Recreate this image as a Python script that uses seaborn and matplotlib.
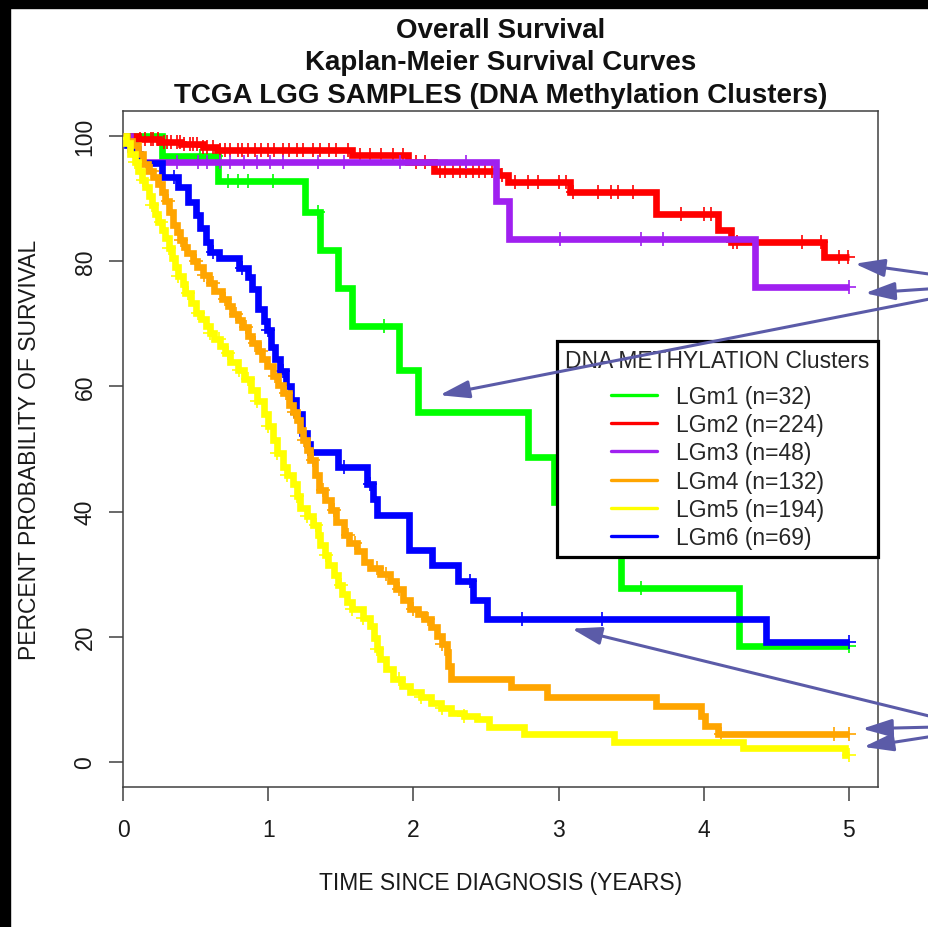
import numpy as np
import pandas as pd
import matplotlib
matplotlib.use("Agg")
import matplotlib.pyplot as plt
from matplotlib.lines import Line2D
from matplotlib.patches import Rectangle
import seaborn as sns

sns.set_style("ticks")
plt.rcParams["font.family"] = ["Liberation Sans", "DejaVu Sans"]

# ---------------------------------------------------------------- data
GROUPS = ["LGm1", "LGm2", "LGm3", "LGm4", "LGm5", "LGm6"]
COUNTS = [32, 224, 48, 132, 194, 69]
COLORS = ["#00ff00", "#ff0000", "#a020f0", "#ffa500", "#ffff00", "#0000ff"]

# Kaplan-Meier steps: time (years) of each drop and survival (%) after it
lgm1_t = [0, 0.27, 0.655, 1.255, 1.36, 1.48, 1.58, 1.90, 2.03, 2.79, 2.97, 3.20, 3.43, 4.24, 5.0]
lgm1_s = [100, 96.8, 92.8, 87.8, 81.8, 75.8, 69.7, 62.7, 55.9, 48.7, 41.6, 34.8, 27.8, 18.5, 18.5]

lgm2_t = [0, 0.10, 0.25, 0.40, 0.55, 0.65, 1.58, 1.96, 2.14, 2.58, 2.65, 3.08, 3.67, 4.10, 4.19, 4.83, 5.0]
lgm2_s = [100, 99.6, 99.1, 98.7, 98.2, 97.8, 96.9, 95.9, 94.4, 93.7, 92.7, 91.1, 87.5, 85.0, 83.0, 80.7, 80.7]

lgm3_t = [0, 0.05, 0.10, 2.57, 2.66, 4.35, 5.0]
lgm3_s = [100, 97.9, 95.8, 89.6, 83.6, 75.9, 75.9]

lgm4_t = [0, 0.03, 0.06, 0.10, 0.14, 0.17, 0.21, 0.24, 0.27, 0.29, 0.32, 0.345, 0.37, 0.39,
          0.42, 0.44, 0.48, 0.51, 0.55, 0.59, 0.63, 0.68, 0.72, 0.75, 0.79, 0.82, 0.86, 0.89,
          0.93, 0.96, 0.99, 1.03, 1.07, 1.10, 1.14, 1.17, 1.20, 1.22, 1.24, 1.27, 1.29, 1.32,
          1.35, 1.39, 1.43, 1.47, 1.52, 1.56, 1.61, 1.66, 1.70, 1.77, 1.84, 1.88, 1.93, 1.98,
          2.03, 2.07, 2.12, 2.16, 2.20, 2.23, 2.24, 2.26, 2.67, 2.92, 3.67, 3.98, 4.01, 4.10, 5.0]
lgm4_s = [100, 99.2, 98.5, 97.1, 95.5, 94.4, 93.4, 92.4, 91.0, 89.6, 87.8, 85.8, 84.6, 83.4,
          82.3, 81.3, 80.1, 79.0, 77.8, 76.6, 75.3, 74.0, 72.8, 71.6, 70.6, 69.5, 68.1, 66.9,
          65.6, 64.4, 63.2, 61.6, 60.2, 58.9, 57.1, 55.9, 54.7, 53.0, 51.5, 49.8, 48.2, 45.9,
          43.4, 41.8, 40.2, 38.4, 36.3, 35.0, 33.7, 32.0, 31.0, 30.0, 28.9, 27.6, 25.8, 24.4,
          23.6, 22.9, 21.5, 20.2, 18.8, 17.6, 15.4, 13.2, 11.9, 10.3, 8.9, 7.3, 5.8, 4.4, 4.4]

lgm5_t = [0, 0.02, 0.05, 0.08, 0.10, 0.13, 0.15, 0.18, 0.20, 0.22, 0.24, 0.27, 0.29, 0.32,
          0.34, 0.36, 0.38, 0.41, 0.43, 0.47, 0.50, 0.54, 0.57, 0.60, 0.63, 0.67, 0.70, 0.74,
          0.79, 0.83, 0.88, 0.92, 0.97, 1.00, 1.03, 1.06, 1.10, 1.13, 1.17, 1.20, 1.22, 1.27,
          1.31, 1.34, 1.36, 1.39, 1.41, 1.45, 1.48, 1.51, 1.54, 1.58, 1.65, 1.70, 1.73, 1.75,
          1.77, 1.81, 1.86, 1.92, 1.98, 2.05, 2.12, 2.19, 2.26, 2.35, 2.44, 2.52, 2.76, 3.38,
          4.27, 4.97, 5.0]
lgm5_s = [100, 98.9, 97.1, 95.8, 94.4, 93.0, 91.8, 90.4, 89.0, 87.6, 86.3, 85.0, 83.7, 82.1,
          80.5, 79.1, 77.7, 76.3, 75.0, 73.4, 71.8, 70.7, 69.7, 68.6, 67.6, 66.4, 65.3, 63.9,
          62.6, 61.2, 59.5, 57.6, 55.6, 53.6, 51.5, 49.3, 47.1, 45.8, 44.4, 42.5, 40.6, 39.3,
          37.9, 36.3, 34.7, 33.1, 31.5, 29.8, 28.2, 26.9, 25.6, 24.5, 23.0, 21.8, 19.8, 18.0,
          16.5, 14.8, 13.2, 12.1, 11.1, 10.3, 9.5, 8.7, 7.9, 7.3, 6.8, 5.6, 4.4, 3.2,
          2.2, 1.1, 1.1]

lgm6_t = [0, 0.03, 0.08, 0.12, 0.27, 0.38, 0.45, 0.50, 0.53, 0.57, 0.60, 0.66, 0.80, 0.86,
          0.89, 0.93, 0.97, 0.99, 1.02, 1.05, 1.08, 1.12, 1.16, 1.19, 1.23, 1.27, 1.29, 1.48,
          1.68, 1.72, 1.75, 1.97, 2.13, 2.31, 2.41, 2.51, 4.43, 5.0]
lgm6_s = [100, 98.6, 97.1, 95.7, 93.4, 91.9, 89.5, 87.4, 85.3, 83.0, 81.5, 80.5, 78.9, 77.5,
          75.6, 72.4, 70.5, 69.0, 66.3, 64.4, 62.4, 60.0, 57.8, 55.6, 52.6, 50.8, 49.5, 47.1,
          44.4, 42.0, 39.4, 33.9, 31.5, 28.9, 25.8, 22.9, 19.2, 19.2]

# censoring times (years)
lgm1_cens = [0.53, 0.64, 0.72, 0.79, 0.86, 1.03, 1.34, 1.80, 3.57, 5.0]
lgm2_cens = [0.12, 0.15, 0.19, 0.21, 0.24, 0.28, 0.30, 0.33, 0.37, 0.39, 0.42, 0.46, 0.48,
             0.51, 0.55, 0.58, 0.62, 0.67, 0.70, 0.74, 0.79, 0.82, 0.86, 0.91, 0.95, 1.00,
             1.04, 1.10, 1.14, 1.20, 1.24, 1.31, 1.36, 1.42, 1.47, 1.55, 1.63, 1.70, 1.78,
             1.86, 1.93, 2.02, 2.08, 2.18, 2.22, 2.27, 2.32, 2.36, 2.41, 2.45, 2.49, 2.54,
             2.61, 2.70, 2.79, 2.86, 3.00, 3.05, 3.10, 3.27, 3.36, 3.41, 3.51, 3.84, 4.00,
             4.05, 4.20, 4.23, 4.68, 4.81, 4.93, 4.99]
lgm3_cens = [0.37, 0.52, 0.58, 0.67, 0.74, 0.83, 0.92, 1.01, 1.10, 1.34, 1.52, 1.91, 2.36,
             3.01, 3.57, 3.72, 5.0]
lgm4_cens = [0.20, 0.31, 0.40, 0.50, 0.56, 0.62, 0.70, 0.78, 0.85, 0.91, 0.95, 1.05, 1.12,
             1.18, 1.25, 1.31, 1.38, 1.45, 1.55, 1.60, 1.75, 1.81, 1.90, 2.00, 2.10, 2.20,
             4.12, 4.90, 5.0]
lgm5_cens = [0.08, 0.14, 0.20, 0.26, 0.32, 0.38, 0.45, 0.52, 0.60, 0.66, 0.72, 0.80, 0.86,
             0.92, 1.00, 1.06, 1.13, 1.20, 1.27, 1.33, 1.40, 1.50, 1.58, 1.65, 1.75, 1.90,
             2.05, 2.20, 2.35, 5.0]
lgm6_cens = [0.35, 0.62, 0.82, 1.00, 1.10, 1.20, 1.52, 1.70, 2.39, 2.75, 3.30, 5.0]

STEP_T = [lgm1_t, lgm2_t, lgm3_t, lgm4_t, lgm5_t, lgm6_t]
STEP_S = [lgm1_s, lgm2_s, lgm3_s, lgm4_s, lgm5_s, lgm6_s]
CENS = [lgm1_cens, lgm2_cens, lgm3_cens, lgm4_cens, lgm5_cens, lgm6_cens]

# arrow annotations: tip (time, %) and tail (time, %) beyond the right edge
arrow_tips = [(5.04, 79.6), (5.11, 74.9), (2.18, 58.6), (3.09, 21.3), (5.09, 5.3), (5.10, 2.4)]
arrow_tails = [(5.63, 77.7), (5.63, 75.7), (5.63, 74.3), (5.63, 6.9), (5.63, 5.6), (5.63, 4.3)]

# ---------------------------------------------------------------- figure
W, H = 929, 928
fig = plt.figure(figsize=(W / 100, H / 100), dpi=100)
fig.patch.set_facecolor("white")
ax = fig.add_axes([123 / W, 1 - 788 / H, (878 - 123) / W, (788 - 112) / H])
ax.set_facecolor("white")

curves = []
marks = []
for g, t, s, c in zip(GROUPS, STEP_T, STEP_S, CENS):
    curves.append(pd.DataFrame({"time": t, "surv": s, "group": g}))
    t_arr = np.asarray(t)
    s_arr = np.asarray(s)
    idx = np.searchsorted(t_arr, np.asarray(c), side="right") - 1
    marks.append(pd.DataFrame({"time": c, "surv": s_arr[idx], "group": g}))

draw_order = [0, 1, 2, 5, 3, 4]
for z, i in enumerate(draw_order):
    sns.lineplot(data=curves[i], x="time", y="surv", color=COLORS[i], lw=4.8,
                 drawstyle="steps-post", estimator=None, sort=False, ax=ax,
                 legend=False, zorder=3 + 2 * z, solid_joinstyle="miter",
                 solid_capstyle="butt")
    sns.scatterplot(data=marks[i], x="time", y="surv", color=COLORS[i], marker="+",
                    s=110, linewidth=1.2, ax=ax, legend=False, zorder=4 + 2 * z)

ax.set_xlim(0, 5.2)
ax.set_ylim(-4, 104)
ax.set_xticks(range(0, 6))
ax.set_yticks(range(0, 101, 20))
ax.set_xlabel("")
ax.set_ylabel("")
for sp in ax.spines.values():
    sp.set_visible(True)
    sp.set_color("#404040")
    sp.set_linewidth(1.1)
ax.tick_params(axis="both", direction="out", length=10, width=1.1, color="#404040",
               labelsize=16.5, labelcolor="#1a1a1a")
ax.tick_params(axis="x", pad=12)
ax.tick_params(axis="y", pad=9, labelrotation=90)
for lab in ax.get_yticklabels():
    lab.set_va("center")

# legend
handles = [Line2D([], [], color=c, lw=2.4) for c in COLORS]
labels = [f"{g} (n={n})" for g, n in zip(GROUPS, COUNTS)]
leg = ax.legend(handles, labels, title="DNA METHYLATION Clusters", loc="upper right",
                bbox_to_anchor=(1.0, (788 - 342) / 676), fontsize=16.5, title_fontsize=16.5,
                frameon=True, fancybox=False, edgecolor="black", framealpha=1,
                borderpad=0.36, labelspacing=0.23, handlelength=2.0, handletextpad=0.8,
                borderaxespad=0)
leg.get_frame().set_linewidth(2.3)
leg._legend_box.sep = 9.0
leg.set_zorder(20)

# arrows
for tip, tail in zip(arrow_tips, arrow_tails):
    ax.annotate("", xy=tip, xytext=tail, xycoords="data", textcoords="data",
                annotation_clip=False, zorder=30,
                arrowprops=dict(arrowstyle="-|>,head_length=0.6,head_width=0.18",
                                mutation_scale=30, color="#5b5ba8", lw=2.2,
                                shrinkA=0, shrinkB=0))

# titles and axis labels
cx = (123 + 878) / 2 / W
for text, yb in [("Overall Survival", 38), ("Kaplan-Meier Survival Curves", 70),
                 ("TCGA LGG SAMPLES (DNA Methylation Clusters)", 103)]:
    fig.text(cx, 1 - yb / H, text, ha="center", va="baseline", fontsize=20,
             fontweight="bold", color="#111111")
fig.text(cx, 1 - 884 / H, "TIME SINCE DIAGNOSIS (YEARS)", ha="center", va="center",
         fontsize=16.5, color="#1a1a1a")
fig.text(30 / W, 1 - 450 / H, "PERCENT PROBABILITY OF SURVIVAL", ha="center", va="center",
         rotation=90, fontsize=16.5, color="#1a1a1a")

# dark frame along the top and left edges
fig.add_artist(Rectangle((0, 1 - 9 / H), 1, 9 / H, transform=fig.transFigure,
                         color="black", zorder=100))
fig.add_artist(Rectangle((0, 0), 10 / W, 1, transform=fig.transFigure,
                         color="black", zorder=100))

fig.savefig("out.png", dpi=100, facecolor="white")
